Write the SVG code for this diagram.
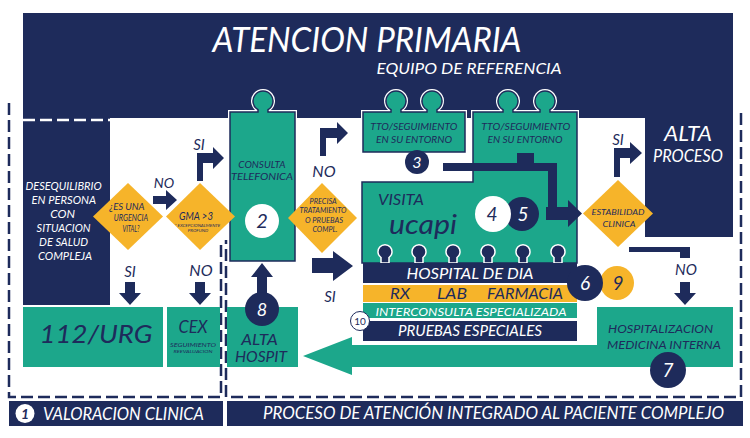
<svg xmlns="http://www.w3.org/2000/svg" width="750" height="438" viewBox="0 0 750 438">
<style>
text{font-family:Lato,"Open Sans","Liberation Sans",sans-serif;font-style:italic;}
.w{fill:#ffffff}
.n{fill:#1e2b5b}
.t{fill:#1ca78b}
.o{fill:#f6b42a}
.pc{fill:#1ca78b;stroke:#1e2b5b;stroke-width:1.5}
.po{fill:none;stroke:#ffffff;stroke-width:4}
.dash{fill:none;stroke:#1e2b5b;stroke-width:2.5;stroke-dasharray:12 5}
.wdash{fill:none;stroke:#ffffff;stroke-width:2.5;stroke-dasharray:12 5}
.knob{fill:#1e2b5b;stroke:#ffffff;stroke-width:1.5}
</style>
<defs>
<path id="pz1" d="M230,112 H258 V109.7 A10,10 0 1 1 268,109.7 V112 H295 V261 H230 Z"/>
<path id="pz2" d="M363,112 H391 V109.7 A10,10 0 1 1 401,109.7 V112 H427 V109.7 A10,10 0 1 1 437,109.7 V112 H465 V152 H363 Z"/>
<path id="pz3" d="M362,182 H473 V112 H503 V109.7 A10,10 0 1 1 513,109.7 V112 H540 V109.7 A10,10 0 1 1 550,109.7 V112 H577 V263 H362 Z"/>
<path id="kb" d="M-4,263 V257.5 A7,7 0 1 1 4,257.5 V263 Z"/>
</defs>
<rect width="750" height="438" fill="#ffffff"/>

<g id="banner">
<path class="n" d="M23,13 H733 V237 H645 V118 H110 V305 H23 Z"/>
<text x="367" y="52" class="w" font-size="34" text-anchor="middle" textLength="309" lengthAdjust="spacingAndGlyphs">ATENCION PRIMARIA</text>
<text x="469" y="74" class="w" font-size="15" text-anchor="middle" textLength="185" lengthAdjust="spacingAndGlyphs">EQUIPO DE REFERENCIA</text>
</g>

<g id="frames">
<path class="dash" d="M9,103 V397 H221 V240"/>
<path class="dash" d="M741,113 V397 H226 V240"/>
<path class="wdash" d="M23,120 H110"/>
</g>

<g id="desequilibrio">
<text class="w" font-size="12" text-anchor="middle">
<tspan x="65" y="190" textLength="76" lengthAdjust="spacingAndGlyphs">DESEQUILIBRIO</tspan>
<tspan x="65" y="204" textLength="64" lengthAdjust="spacingAndGlyphs">EN PERSONA</tspan>
<tspan x="64" y="218">CON</tspan>
<tspan x="65" y="232" textLength="54" lengthAdjust="spacingAndGlyphs">SITUACION</tspan>
<tspan x="65" y="246" textLength="49" lengthAdjust="spacingAndGlyphs">DE SALUD</tspan>
<tspan x="65" y="260" textLength="54" lengthAdjust="spacingAndGlyphs">COMPLEJA</tspan>
</text>
</g>

<g id="alta-proceso">
<text x="688" y="141" class="w" font-size="22" text-anchor="middle" textLength="48" lengthAdjust="spacingAndGlyphs">ALTA</text>
<text x="688" y="162" class="w" font-size="17" text-anchor="middle" textLength="70" lengthAdjust="spacingAndGlyphs">PROCESO</text>
</g>

<g id="consulta">
<use href="#pz1" class="po"/>
<use href="#pz1" class="pc"/>
<text class="n" font-size="10" text-anchor="middle">
<tspan x="263" y="168" textLength="47" lengthAdjust="spacingAndGlyphs">CONSULTA</tspan>
<tspan x="262" y="180" textLength="62" lengthAdjust="spacingAndGlyphs">TELEFONICA</tspan>
</text>
<circle cx="262" cy="221" r="17" class="w"/>
<text x="262" y="228" class="n" font-size="20" text-anchor="middle">2</text>
</g>

<g id="tto1">
<use href="#pz2" class="po"/>
<use href="#pz2" class="pc"/>
<text class="n" font-size="10" text-anchor="middle">
<tspan x="415" y="130" textLength="87" lengthAdjust="spacingAndGlyphs">TTO/SEGUIMIENTO</tspan>
<tspan x="414" y="143" textLength="76" lengthAdjust="spacingAndGlyphs">EN SU ENTORNO</tspan>
</text>
<circle cx="417" cy="162" r="12" class="n"/>
<text x="417" y="168" class="w" font-size="16" text-anchor="middle">3</text>
</g>

<g id="ucapi">
<use href="#pz3" class="po"/>
<use href="#pz3" class="pc"/>
<text class="n" font-size="10" text-anchor="middle">
<tspan x="527" y="130" textLength="89" lengthAdjust="spacingAndGlyphs">TTO/SEGUIMIENTO</tspan>
<tspan x="525" y="143" textLength="75" lengthAdjust="spacingAndGlyphs">EN SU ENTORNO</tspan>
</text>
<text x="378" y="205" class="n" font-size="15" textLength="46" lengthAdjust="spacingAndGlyphs">VISITA</text>
<text x="389" y="234" class="n" font-size="27" textLength="68" lengthAdjust="spacingAndGlyphs">ucapi</text>
<circle cx="522" cy="214" r="17" class="n"/>
<circle cx="493" cy="214" r="18" class="w"/>
<text x="492" y="221" class="n" font-size="19" text-anchor="middle">4</text>
<text x="523" y="221" class="w" font-size="19" text-anchor="middle">5</text>
</g>

<g id="hospital-dia">
<use href="#kb" class="knob" x="385"/>
<use href="#kb" class="knob" x="419"/>
<use href="#kb" class="knob" x="453"/>
<use href="#kb" class="knob" x="488"/>
<use href="#kb" class="knob" x="523"/>
<use href="#kb" class="knob" x="558"/>
<rect x="363" y="263" width="214" height="20" class="n"/>
<text x="470" y="279" class="w" font-size="15" text-anchor="middle" textLength="127" lengthAdjust="spacingAndGlyphs">HOSPITAL DE DIA</text>
</g>

<g id="rx-lab-farmacia">
<rect x="363" y="285" width="214" height="17" class="o"/>
<text y="299" class="n" font-size="16">
<tspan x="390" textLength="20" lengthAdjust="spacingAndGlyphs">RX</tspan>
<tspan x="437" textLength="30" lengthAdjust="spacingAndGlyphs">LAB</tspan>
<tspan x="487" textLength="76" lengthAdjust="spacingAndGlyphs">FARMACIA</tspan>
</text>
</g>

<g id="interconsulta">
<rect x="363" y="303" width="214" height="15" class="t"/>
<text x="471" y="316" class="w" font-size="12" text-anchor="middle" textLength="191" lengthAdjust="spacingAndGlyphs">INTERCONSULTA ESPECIALIZADA</text>
</g>

<g id="pruebas">
<rect x="363" y="321" width="214" height="20" class="n"/>
<text x="470" y="336" class="w" font-size="15" text-anchor="middle" textLength="144" lengthAdjust="spacingAndGlyphs">PRUEBAS ESPECIALES</text>
<circle cx="360" cy="321" r="9.5" fill="#ffffff" stroke="#1e2b5b" stroke-width="1"/>
<text x="360" y="325" class="n" font-size="10" style="font-style:normal" text-anchor="middle">10</text>
</g>

<g id="badge-6-9">
<circle cx="617" cy="283" r="17" class="o"/>
<circle cx="585" cy="283" r="18" class="n"/>
<text x="585" y="290" class="w" font-size="19" text-anchor="middle">6</text>
<text x="618" y="290" class="n" font-size="19" text-anchor="middle">9</text>
</g>

<g id="urgencia">
<polygon class="o" points="128,183 163,216.5 128,250 93,216.5"/>
<text class="n" font-size="10" text-anchor="middle">
<tspan x="128" y="210" textLength="35" lengthAdjust="spacingAndGlyphs">¿ES UNA</tspan>
<tspan x="132" y="221" textLength="34" lengthAdjust="spacingAndGlyphs">URGENCIA</tspan>
<tspan x="131" y="232" textLength="17" lengthAdjust="spacingAndGlyphs">VITAL?</tspan>
</text>
</g>

<g id="gma">
<polygon class="o" points="200,183 235,216.5 200,250 166,216.5"/>
<text x="196" y="220" class="n" font-size="12" text-anchor="middle" textLength="34" lengthAdjust="spacingAndGlyphs">GMA &gt;3</text>
<text class="n" font-size="4.5" text-anchor="middle">
<tspan x="198" y="227">* EXCEPCIONALMENTE</tspan>
<tspan x="198" y="232">PROFUND</tspan>
</text>
</g>

<g id="precisa">
<polygon class="o" points="322,183 357,218 322,253 288,218"/>
<text class="n" font-size="8.5" text-anchor="middle">
<tspan x="324" y="204" textLength="27" lengthAdjust="spacingAndGlyphs">PRECISA</tspan>
<tspan x="324" y="213" textLength="47" lengthAdjust="spacingAndGlyphs">TRATAMIENTO</tspan>
<tspan x="325" y="223" textLength="38" lengthAdjust="spacingAndGlyphs">O PRUEBAS</tspan>
<tspan x="325" y="232" textLength="25" lengthAdjust="spacingAndGlyphs">COMPL.</tspan>
</text>
</g>

<g id="estabilidad">
<polygon class="o" points="618,180 653,213.5 618,247 583,213.5"/>
<text class="n" font-size="8.5" text-anchor="middle">
<tspan x="619" y="215" textLength="53" lengthAdjust="spacingAndGlyphs">ESTABILIDAD</tspan>
<tspan x="619" y="227" textLength="33" lengthAdjust="spacingAndGlyphs">CLINICA</tspan>
</text>
</g>

<g id="urg112">
<rect x="23" y="307" width="140" height="60" class="t"/>
<text x="96" y="343" class="n" font-size="26" text-anchor="middle" textLength="113" lengthAdjust="spacingAndGlyphs">112/URG</text>
</g>

<g id="cex">
<rect x="167" y="307" width="53" height="60" class="t"/>
<text x="193" y="333" class="n" font-size="17" text-anchor="middle" textLength="29" lengthAdjust="spacingAndGlyphs">CEX</text>
<text x="193" y="347" class="n" font-size="6" text-anchor="middle" textLength="46" lengthAdjust="spacingAndGlyphs">SEGUIMIENTO</text>
<text x="193" y="353" class="n" font-size="4.5" text-anchor="middle" textLength="39" lengthAdjust="spacingAndGlyphs">REEVALUACION</text>
</g>

<g id="alta-hospit">
<rect x="227" y="307" width="71" height="60" class="t"/>
<text class="n" font-size="15" text-anchor="middle">
<tspan x="261" y="345" textLength="36" lengthAdjust="spacingAndGlyphs">ALTA</tspan>
<tspan x="261" y="362" textLength="52" lengthAdjust="spacingAndGlyphs">HOSPIT</tspan>
</text>
</g>

<g id="hospitalizacion">
<rect x="597" y="307" width="136" height="60" class="t"/>
<text class="n" font-size="12" text-anchor="middle">
<tspan x="662" y="333" textLength="105" lengthAdjust="spacingAndGlyphs">HOSPITALIZACION</tspan>
<tspan x="664" y="349" textLength="114" lengthAdjust="spacingAndGlyphs">MEDICINA INTERNA</tspan>
</text>
<circle cx="668" cy="370" r="18" class="n"/>
<text x="668" y="377" class="w" font-size="19" text-anchor="middle">7</text>
</g>

<g id="connectors">
<polygon class="t" points="597,345 352,345 352,337 303,356 352,375 352,367 597,367"/>
<polygon class="n" points="153,196 166,196 166,190 177,200 166,210 166,204 153,204"/>
<text x="164" y="188" class="n" font-size="14" text-anchor="middle">NO</text>
<polygon class="n" points="197,181 197,153 213,153 213,147 224,158 213,169 213,163 203,163 203,181"/>
<text x="199" y="150" class="n" font-size="15" text-anchor="middle">SI</text>
<polygon class="n" points="125,282 135,282 135,293 141,293 130,305 119,293 125,293"/>
<text x="130" y="277" class="n" font-size="15" text-anchor="middle">SI</text>
<polygon class="n" points="195,282 205,282 205,293 211,293 200,305 189,293 195,293"/>
<text x="201" y="276" class="n" font-size="16" text-anchor="middle">NO</text>
<polygon class="n" points="257,294 257,277 251,277 262,263 273,277 267,277 267,294"/>
<circle cx="262" cy="309" r="17" class="n"/>
<text x="262" y="316" class="w" font-size="18" text-anchor="middle">8</text>
<polygon class="n" points="320,156 320,128 337,128 337,122 348,133 337,144 337,138 326,138 326,156"/>
<text x="324" y="177" class="n" font-size="16" text-anchor="middle">NO</text>
<polygon class="n" points="312,258 333,258 333,251 353,266 333,281 333,273 312,273"/>
<text x="330" y="302" class="n" font-size="15" text-anchor="middle">SI</text>
<rect x="517" y="153" width="17" height="12" class="n"/>
<polygon class="n" points="443,163 557,163 557,207 568,207 568,200 582,213.5 568,227 568,220 546,220 546,207 548,207 548,171 443,171"/>
<polygon class="n" points="614,177 614,148 630,148 630,142 642,153 630,164 630,158 620,158 620,177"/>
<text x="618" y="145" class="n" font-size="15" text-anchor="middle">SI</text>
<polygon class="n" points="629,247 690,247 690,258 680,258 680,252 629,252"/>
<text x="686" y="275" class="n" font-size="15" text-anchor="middle">NO</text>
<polygon class="n" points="680,282 690,282 690,293 696,293 685,305 674,293 680,293"/>
</g>

<g id="label-valoracion">
<rect x="9" y="401" width="214" height="25" class="n"/>
<circle cx="25" cy="413.5" r="9.5" class="w"/>
<text x="25" y="419" class="n" font-size="14" font-weight="bold" text-anchor="middle">1</text>
<text x="43" y="420" class="w" font-size="18" textLength="161" lengthAdjust="spacingAndGlyphs">VALORACION CLINICA</text>
</g>

<g id="label-proceso">
<rect x="227" y="401" width="516" height="25" class="n"/>
<text x="263" y="419" class="w" font-size="17" textLength="461" lengthAdjust="spacingAndGlyphs">PROCESO DE ATENCIÓN INTEGRADO AL PACIENTE COMPLEJO</text>
</g>
</svg>
